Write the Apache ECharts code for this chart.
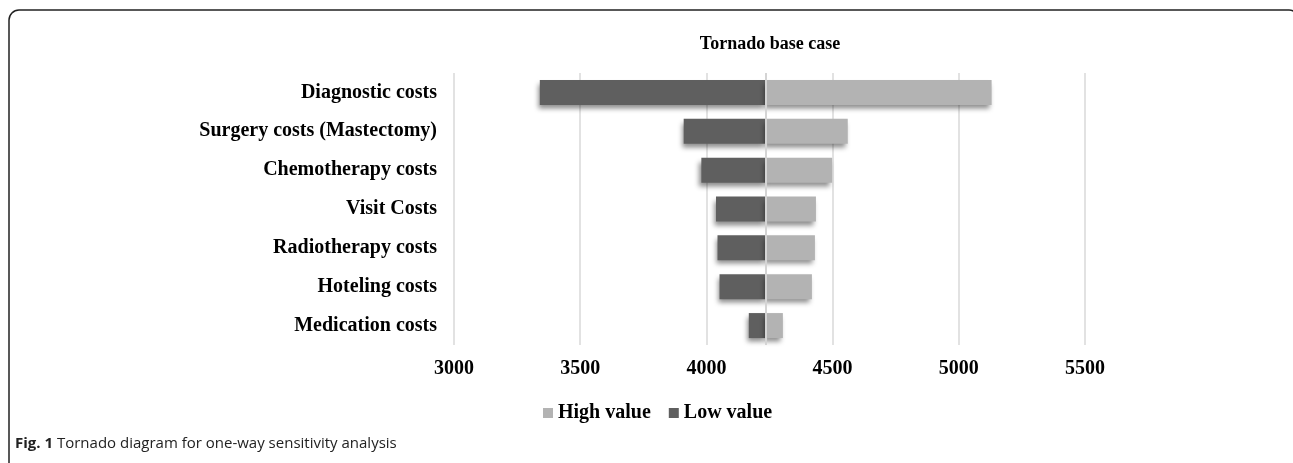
<!DOCTYPE html>
<html>
<head>
<meta charset="utf-8">
<title>Tornado base case</title>
<script src="https://cdn.jsdelivr.net/npm/echarts@6/dist/echarts.min.js"></script>
<style>
  html, body { margin: 0; padding: 0; background: #fff; }
  #chart { width: 1293px; height: 463px; }
</style>
</head>
<body>
<div id="chart"></div>
<script>
// 参数（从上到下）
const categories = [
  'Diagnostic costs',
  'Surgery costs (Mastectomy)',
  'Chemotherapy costs',
  'Visit Costs',
  'Radiotherapy costs',
  'Hoteling costs',
  'Medication costs'
];
const baseCase = 4235;
const lowValues = [3340, 3910, 3980, 4038, 4044, 4052, 4168];
const highValues = [5130, 4560, 4498, 4434, 4430, 4418, 4303];
const xTicks = { min: 3000, max: 5500, interval: 500 };

const serifFont = '"Liberation Serif", "Times New Roman", serif';
const sansFont = '"Open Sans", "Noto Sans", sans-serif';
const barShadow = {
  shadowBlur: 5,
  shadowColor: 'rgba(0,0,0,0.45)',
  shadowOffsetX: -2,
  shadowOffsetY: 4
};

// 堆叠：透明占位 -> 低值段 -> 高值段
const placeholder = lowValues.map(v => v);
const lowSpan = lowValues.map(v => baseCase - v);
const highSpan = highValues.map(v => v - baseCase);

const chart = echarts.init(document.getElementById('chart'), null, { renderer: 'canvas' });

chart.setOption({
  animation: false,
  backgroundColor: '#fff',
  title: [
    {
      text: 'Tornado base case',
      left: 765,
      top: 30,
      textAlign: 'center',
      textStyle: { fontFamily: serifFont, fontSize: 18, fontWeight: 'bold', color: '#000' }
    },
    {
      text: '{b|Fig. 1} Tornado diagram for one-way sensitivity analysis',
      left: 10,
      top: 431,
      textStyle: {
        fontFamily: sansFont,
        fontSize: 15,
        fontWeight: 'normal',
        color: '#222',
        rich: {
          b: { fontFamily: sansFont, fontSize: 15, fontWeight: 'bold', color: '#222' }
        }
      }
    }
  ],
  graphic: [
    {
      type: 'rect',
      silent: true,
      shape: { x: 9, y: 10, width: 1290, height: 520, r: [10, 10, 0, 0] },
      style: { fill: 'none', stroke: '#222', lineWidth: 1.5 }
    }
  ],
  legend: {
    data: ['High value', 'Low value'],
    left: 538,
    top: 398,
    icon: 'rect',
    itemWidth: 10,
    itemHeight: 10,
    itemGap: 18,
    textStyle: { fontFamily: serifFont, fontSize: 20, fontWeight: 'bold', color: '#000' }
  },
  grid: { left: 454, right: 208, top: 73, bottom: 118 },
  xAxis: {
    type: 'value',
    min: xTicks.min,
    max: xTicks.max,
    interval: xTicks.interval,
    axisLine: { show: false },
    axisTick: { show: false },
    splitLine: { show: true, lineStyle: { color: '#d9d9d9', width: 1.5 } },
    axisLabel: {
      margin: 14,
      formatter: v => String(v),
      fontFamily: serifFont,
      fontSize: 20,
      fontWeight: 'bold',
      color: '#000'
    }
  },
  yAxis: {
    type: 'category',
    inverse: true,
    data: categories,
    axisLine: { show: false },
    axisTick: { show: false },
    axisLabel: {
      margin: 17,
      fontFamily: serifFont,
      fontSize: 20,
      fontWeight: 'bold',
      color: '#000'
    }
  },
  series: [
    {
      name: 'placeholder',
      type: 'bar',
      stack: 'tornado',
      barWidth: 25,
      silent: true,
      itemStyle: { color: 'rgba(0,0,0,0)' },
      data: placeholder
    },
    {
      name: 'Low value',
      type: 'bar',
      stack: 'tornado',
      barWidth: 25,
      itemStyle: Object.assign({ color: '#5f5f5f' }, barShadow),
      data: lowSpan
    },
    {
      name: 'High value',
      type: 'bar',
      stack: 'tornado',
      barWidth: 25,
      itemStyle: Object.assign({ color: '#b3b3b3' }, barShadow),
      data: highSpan,
      markLine: {
        silent: true,
        symbol: ['none', 'none'],
        label: { show: false },
        lineStyle: { color: '#d4d4d4', width: 2, type: 'solid' },
        data: [{ xAxis: baseCase }]
      }
    }
  ]
});

window.addEventListener('resize', () => chart.resize());
</script>
</body>
</html>
